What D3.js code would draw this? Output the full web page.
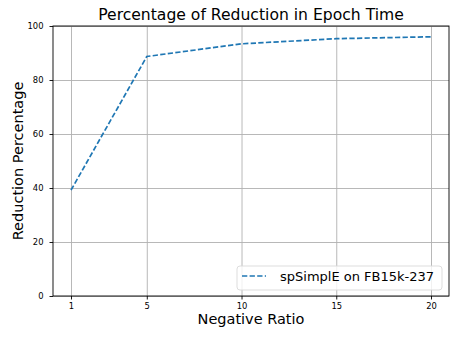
<!DOCTYPE html>
<html>
<head>
<meta charset="utf-8">
<script src="https://cdn.jsdelivr.net/npm/d3@7"></script>
<style>
  body { margin: 0; background: #fff; }
  svg text { font-family: "DejaVu Sans", sans-serif; fill: #000; }
</style>
</head>
<body>
<div id="chart"></div>
<script>
// data
var ratios = [1, 5, 10, 15, 20];
var reduction = [39.2, 88.7, 93.4, 95.3, 96.0];
var xTicks = [1, 5, 10, 15, 20];
var yTicks = [0, 20, 40, 60, 80, 100];
var seriesName = "spSimplE on FB15k-237";

function draw() {
    var width = 457, height = 342;
    var left = 53, right = 449, top = 26, bottom = 296;

    var svg = d3.select("#chart").append("svg")
        .attr("width", width)
        .attr("height", height);

    // matplotlib style 5% margins on x
    var pad = (d3.max(ratios) - d3.min(ratios)) * 0.05;
    var x = d3.scaleLinear()
        .domain([d3.min(ratios) - pad, d3.max(ratios) + pad])
        .range([left, right]);
    var y = d3.scaleLinear()
        .domain([0, 100])
        .range([bottom, top]);

    // grid
    svg.append("g")
        .attr("transform", "translate(0," + bottom + ")")
        .call(d3.axisBottom(x).tickValues(xTicks).tickSize(-(bottom - top)).tickFormat(""))
        .call(function (g) {
            g.select(".domain").remove();
            g.selectAll("line").attr("stroke", "#b0b0b0").attr("stroke-width", 0.9);
        });
    svg.append("g")
        .attr("transform", "translate(" + left + ",0)")
        .call(d3.axisLeft(y).tickValues(yTicks).tickSize(-(right - left)).tickFormat(""))
        .call(function (g) {
            g.select(".domain").remove();
            g.selectAll("line").attr("stroke", "#b0b0b0").attr("stroke-width", 0.9);
        });

    // the line
    var line = d3.line()
        .x(function (d, i) { return x(ratios[i]); })
        .y(function (d) { return y(d); });

    svg.append("path")
        .datum(reduction)
        .attr("d", line)
        .attr("fill", "none")
        .attr("stroke", "#1f77b4")
        .attr("stroke-width", 1.7)
        .attr("stroke-dasharray", "5.3,2.3");

    // spines
    svg.append("rect")
        .attr("x", left).attr("y", top)
        .attr("width", right - left).attr("height", bottom - top)
        .attr("fill", "none")
        .attr("stroke", "#000")
        .attr("stroke-width", 0.9);

    // axes (ticks + labels)
    var xAxis = svg.append("g")
        .attr("transform", "translate(0," + bottom + ")")
        .call(d3.axisBottom(x).tickValues(xTicks).tickSize(3.5).tickPadding(4));
    var yAxis = svg.append("g")
        .attr("transform", "translate(" + left + ",0)")
        .call(d3.axisLeft(y).tickValues(yTicks).tickSize(3.5).tickPadding(6));
    [xAxis, yAxis].forEach(function (a) {
        a.select(".domain").remove();
        a.selectAll("line").attr("stroke", "#000").attr("stroke-width", 0.9);
        a.selectAll("text")
            .style("font-family", "DejaVu Sans, sans-serif")
            .style("font-size", "8.4px")
            .attr("fill", "#000");
    });

    // title and axis labels
    svg.append("text")
        .attr("x", (left + right) / 2).attr("y", 20)
        .attr("text-anchor", "middle")
        .style("font-size", "15.6px")
        .text("Percentage of Reduction in Epoch Time");

    svg.append("text")
        .attr("x", (left + right) / 2).attr("y", 324)
        .attr("text-anchor", "middle")
        .style("font-size", "14.5px")
        .text("Negative Ratio");

    svg.append("text")
        .attr("transform", "translate(23," + ((top + bottom) / 2) + ") rotate(-90)")
        .attr("text-anchor", "middle")
        .style("font-size", "14.5px")
        .text("Reduction Percentage");

    // legend
    var legend = svg.append("g");
    legend.append("rect")
        .attr("x", 237).attr("y", 266)
        .attr("width", 205).attr("height", 24)
        .attr("rx", 3)
        .attr("fill", "#fff")
        .attr("fill-opacity", 0.8)
        .attr("stroke", "#d9d9d9")
        .attr("stroke-width", 0.9);
    legend.append("line")
        .attr("x1", 242).attr("x2", 266)
        .attr("y1", 276).attr("y2", 276)
        .attr("stroke", "#1f77b4")
        .attr("stroke-width", 1.7)
        .attr("stroke-dasharray", "5.3,2.3");
    legend.append("text")
        .attr("x", 280).attr("y", 281)
        .style("font-size", "13px")
        .text(seriesName);
}

window.onload = draw;
</script>
</body>
</html>
